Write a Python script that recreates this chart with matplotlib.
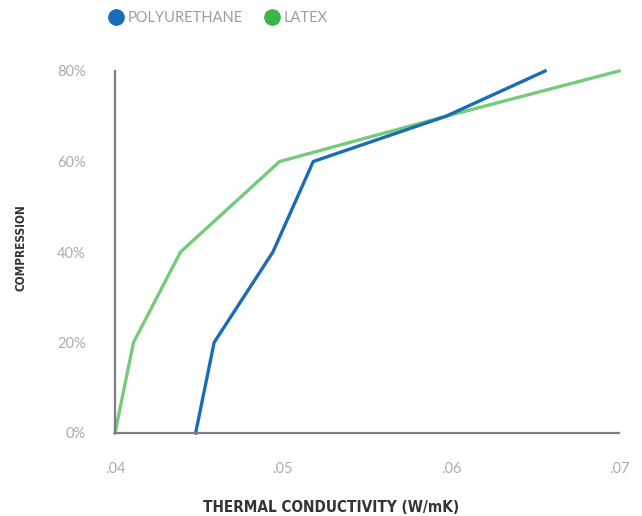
import matplotlib.pyplot as plt
from matplotlib.lines import Line2D

# data
pu_x = [0.0448, 0.0459, 0.0494, 0.0518, 0.0597, 0.0656]
pu_y = [0, 20, 40, 60, 70, 80]
latex_x = [0.040, 0.0411, 0.0439, 0.0498, 0.0597, 0.070]
latex_y = [0, 20, 40, 60, 70, 80]

x_ticks = [0.04, 0.05, 0.06, 0.07]
x_tick_labels = ['.04', '.05', '.06', '.07']
y_ticks = [0, 20, 40, 60, 80]
y_tick_labels = ['0%', '20%', '40%', '60%', '80%']

blue = '#1a6db5'
green_line = '#76ca7c'
green_dot = '#3db54a'
spine_col = '#7d7d84'
tick_col = '#ababab'
label_col = '#333333'

fig = plt.figure(figsize=(6.42, 5.16), dpi=100)
ax = fig.add_axes([115 / 642, 1 - 433 / 516, 504 / 642, 362 / 516])

ax.plot(pu_x, pu_y, color=blue, lw=2.4, clip_on=False, zorder=3)
ax.plot(latex_x, latex_y, color=green_line, lw=2.4, clip_on=False, zorder=2)

ax.set_xlim(0.04, 0.07)
ax.set_ylim(0, 80)
ax.set_xticks(x_ticks)
ax.set_xticklabels(x_tick_labels)
ax.set_yticks(y_ticks)
ax.set_yticklabels(y_tick_labels)

for s in ['top', 'right']:
    ax.spines[s].set_visible(False)
for s in ['left', 'bottom']:
    ax.spines[s].set_color(spine_col)
    ax.spines[s].set_linewidth(1.6)
    ax.spines[s].set_zorder(4)

ax.tick_params(axis='both', length=0, colors=tick_col, labelsize=10.5)
ax.tick_params(axis='y', pad=21)
ax.tick_params(axis='x', pad=21)
for lab in ax.get_xticklabels() + ax.get_yticklabels():
    lab.set_fontfamily('Lato')

# axis titles placed by hand in figure coords
fig.text(331 / 642, 1 - 507 / 516, 'THERMAL CONDUCTIVITY (W/mK)', family='DejaVu Sans',
         stretch='condensed', fontweight='bold', fontsize=11, color=label_col,
         ha='center', va='center')
fig.text(21 / 642, 1 - 248 / 516, 'COMPRESSION', family='DejaVu Sans', rotation=90,
         stretch='condensed', fontweight='bold', fontsize=8.5, color=label_col,
         ha='center', va='center')

handles = [
    Line2D([], [], marker='o', ls='none', ms=11, color=blue),
    Line2D([], [], marker='o', ls='none', ms=11, color=green_dot),
]
leg = fig.legend(handles, ['POLYURETHANE', 'LATEX'], loc='center left',
                 bbox_to_anchor=(94 / 642, 1 - 18 / 516), ncol=2, frameon=False,
                 handletextpad=0.2, columnspacing=1.4, handlelength=1.2,
                 prop={'family': 'Lato', 'size': 10.5})
for t in leg.get_texts():
    t.set_color('#9d9d9d')

fig.savefig('out.png', dpi=100)
